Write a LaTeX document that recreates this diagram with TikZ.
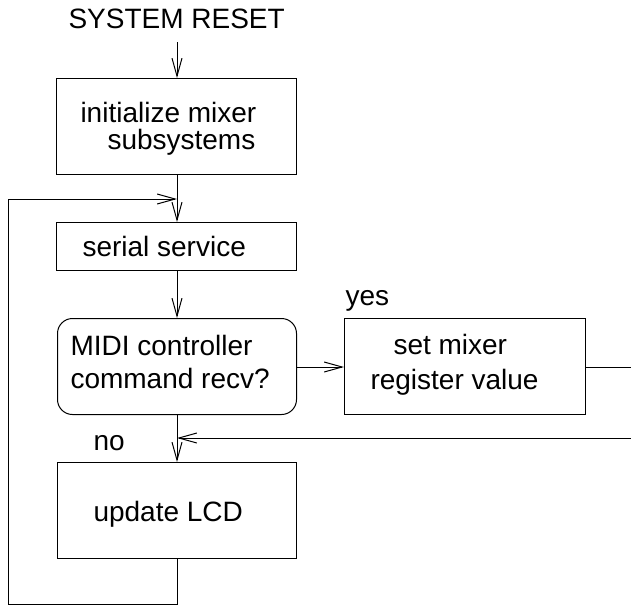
\documentclass[tikz,border=0pt]{standalone}
\usepackage{fontspec}
\setmainfont{Liberation Sans}
\usetikzlibrary{arrows.meta}
\begin{document}
\begin{tikzpicture}[x=1pt,y=-1pt,
  every path/.style={line width=1pt},
  box/.style={draw,line width=1pt,rectangle,inner sep=0pt,anchor=north west},
  txt/.style={inner sep=0pt,anchor=base west,font=\fontsize{28}{34}\selectfont},
  arr/.style={-{Straight Barb[length=18pt,width=10pt]}},
  line/.style={draw,line width=1pt}]
\useasboundingbox (0,0) rectangle (631,606);
% boxes
\node[box,minimum width=240pt,minimum height=96pt] (init) at (56,78) {};
\node[box,minimum width=240pt,minimum height=48pt] (serial) at (56,222) {};
\node[box,minimum width=239pt,minimum height=96pt,rounded corners=15pt] (midi) at (57,318) {};
\node[box,minimum width=241pt,minimum height=96pt] (setm) at (344,318) {};
\node[box,minimum width=239pt,minimum height=96pt] (lcd) at (57,462) {};
% texts
\node[txt] (reset) at (68,28) {SYSTEM RESET};
\node[txt] (t1a) at (80,122) {initialize mixer};
\node[txt] (t1b) at (107,149) {subsystems};
\node[txt] (t2) at (82,256) {serial service};
\node[txt] (t3a) at (70,355) {MIDI controller};
\node[txt] (t3b) at (70,388) {command recv?};
\node[txt] (t4a) at (393,354) {set mixer};
\node[txt] (t4b) at (370,389) {register value};
\node[txt] (yes) at (345,305) {yes};
\node[txt] (no) at (93,450) {no};
\node[txt] (t5) at (93,521) {update LCD};
% coordinates
\coordinate (rs) at (177,42);
\coordinate (loopin) at (177,199);
\coordinate (retin) at (177,438);
\coordinate (rightA) at (631,367);
\coordinate (rightB) at (631,438);
% connectors
\draw[arr] (rs) -- (177,78);
\draw[arr] (177,174) -- (177,222);
\draw[arr] (177,270) -- (177,318);
\draw[arr] (177,414) -- (177,462);
\draw[arr] (midi.east |- 0,367) -- (setm.west |- 0,367);
\draw (setm.east |- 0,367) -- (rightA);
\draw[arr] (rightB) -- (retin);
\draw[arr] (177,558) -- (177,604) -- (8,604) -- (8,199) -- (loopin);
\end{tikzpicture}
\end{document}
